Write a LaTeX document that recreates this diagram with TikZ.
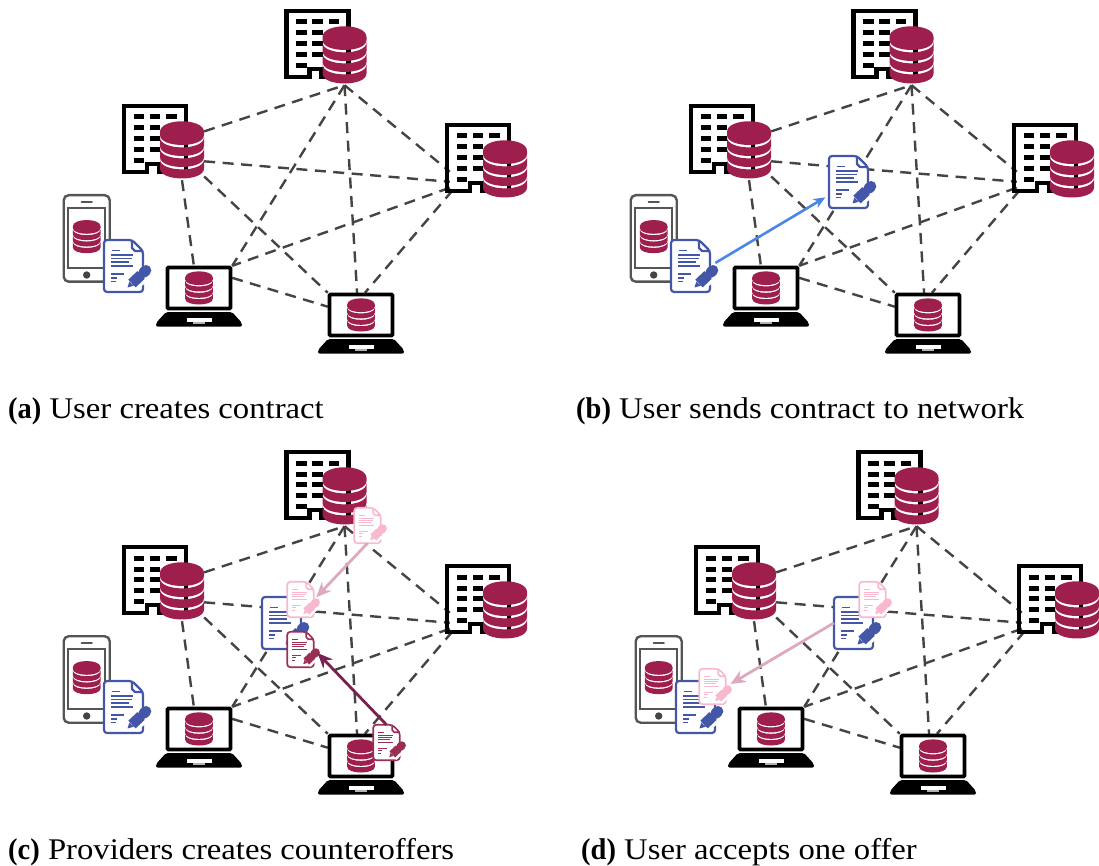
\documentclass[tikz,border=0pt]{standalone}
\usepackage{fontspec}
\setmainfont{Liberation Serif}[FakeStretch=1.09,BoldFeatures={FakeStretch=.95}]
\usetikzlibrary{arrows.meta}

\definecolor{dbred}{HTML}{9E1F4E}
\definecolor{dashgrey}{HTML}{444444}
\definecolor{phonegrey}{HTML}{555555}
\definecolor{docblue}{HTML}{4456A8}
\definecolor{docpink}{HTML}{F9B8CE}
\definecolor{docwine}{HTML}{9A2F55}
\definecolor{sendblue}{HTML}{4A86E8}
\definecolor{offerpink}{HTML}{DDA9BF}
\definecolor{offerwine}{HTML}{7A2050}

% one slice of the database stack
\newcommand{\dbslice}[2]{%
  \fill[dbred] (-22,#1) .. controls (-22,#1+13.3) and (22,#1+13.3) .. (22,#1)
    -- (22,#2) .. controls (22,#2+13.3) and (-22,#2+13.3) .. (-22,#2) -- cycle;}

\tikzset{
  dbhub/.style={inner sep=0pt,minimum width=44pt,minimum height=60pt},
  bldhub/.style={inner sep=0pt,minimum width=62pt,minimum height=67pt},
  laphub/.style={inner sep=0pt,minimum width=66pt,minimum height=44pt},
  bigdoc/.style={inner sep=0pt,minimum width=39pt,minimum height=52pt},
  smalldoc/.style={inner sep=0pt,minimum width=27pt,minimum height=35pt},
  bigpen/.style={line width=2.2pt},
  smallpen/.style={scale=.68,line width=1.7pt},
  dbsmall/.style={xscale=.63,yscale=.58},
  link/.style={draw=dashgrey,line width=2.4pt,dash pattern=on 11pt off 7.5pt},
  sendarrow/.style={draw=sendblue,line width=2.6pt,-{Stealth[length=12pt,width=10pt]}},
  pinkarrow/.style={draw=offerpink,line width=2.8pt,-{Stealth[length=15pt,width=13pt]}},
  winearrow/.style={draw=offerwine,line width=2.8pt,-{Stealth[length=15pt,width=13pt]}},
  captext/.style={anchor=base west,inner sep=0pt,font=\fontsize{30}{36}\selectfont},
  pics/dbstack/.style={code={
    \fill[dbred] (-22,-18) .. controls (-22,-32.3) and (22,-32.3) .. (22,-18)
      -- (22,-15) .. controls (22,-1.7) and (-22,-1.7) .. (-22,-15) -- cycle;
    \dbslice{-12.6}{-4}
    \dbslice{-1.6}{7}
    \dbslice{9.4}{18.5}
  }},
  pics/server/.style={code={
    \begin{scope}[shift={(-60,-46)}]
      \draw[line width=4.5pt,line join=miter] (2,2) -- (64,2) -- (64,68) -- (37,68)
        -- (37,60) -- (25,60) -- (25,68) -- (2,68) -- cycle;
      \foreach \wy in {10.5,21.5,32,43}
        \foreach \wx in {11.5,27.5,44}
          \fill (\wx,\wy) rectangle ++(10.5,5);
      \fill (11.5,54) rectangle ++(10.5,5);
    \end{scope}
    \pic {dbstack};
  }},
  pics/laptop/.style={code={
    \draw[line width=3.6pt,rounded corners=1pt] (-31.5,-20.5) rectangle (31.5,20.5);
    \fill[rounded corners=2pt] (-33,24) -- (33,24) -- (43,35) -- (43,38.7)
      -- (-43,38.7) -- (-43,35) -- cycle;
    \fill[white] (-12.3,30.3) rectangle (12.7,33.7);
    \fill[white!70!black] (-6,33.7) rectangle (6,36);
    \pic[dbsmall] {dbstack};
  }},
  pics/phone/.style={code={
    \draw[phonegrey,line width=2.4pt,rounded corners=5pt] (-23,-41.5) rectangle (23,45);
    \draw[phonegrey,line width=2.4pt] (-18.5,-28.5) rectangle (18.5,31.5);
    \draw[phonegrey,line width=2.4pt,line cap=round] (-5,-34.7) -- (5,-34.7);
    \fill[phonegrey!80!black] (0,38.3) circle (3.7);
    \pic[dbsmall] at (0,0) {dbstack};
  }},
  pics/contract/.style={code={
    \begin{scope}[shift={(-19.5,-26)}]
      \draw[#1,fill=white,rounded corners=3pt,line join=round]
        (0,0) -- (28,0) -- (39,11) -- (39,52) -- (0,52) -- cycle;
      \draw[#1,line join=round] (28,0) -- (28,8) -- (31,11) -- (39,11);
      \draw[#1,line width=.7\pgflinewidth] (7.5,10.7) -- (16,10.7);
      \foreach \ly/\lx in {15/29,18.5/28,22/25,26/29}
        \draw[#1,line width=.7\pgflinewidth] (7,\ly) -- (\lx,\ly);
      \foreach \ly/\lx in {34/20,38/13,41.7/12}
        \draw[#1,line width=.7\pgflinewidth] (7,\ly) -- (\lx,\ly);
      \draw[white,line width=2.8\pgflinewidth] (27,44.5) -- (37,35);
      \draw[#1,line width=2.2\pgflinewidth] (28,43.5) -- (37,35);
      \draw[#1,line width=2.2\pgflinewidth,line cap=round] (39.5,32.7) -- (42,30.3);
      \fill[#1] (23.5,47.5) -- (25.3,41.5) -- (29.8,45.7) -- cycle;
    \end{scope}
  }},
}

% hosts, devices and the dashed links of one panel
\newcommand{\network}{%
  \node[dbhub] (top) at (344.5,55) {};
  \node[dbhub] (left) at (182,150) {};
  \node[bldhub] (right) at (481,156.5) {};
  \node[laphub] (lapa) at (199,288) {};
  \node[laphub] (lapb) at (361,315) {};
  \node[bigdoc] (userdoc) at (123.5,266) {};
  \draw[link] (left.40) -- (top.south);
  \draw[link] (left.-27) -- (right.219.7);
  \draw[link] (left.south) -- (lapa.103);
  \draw[link] (left.-50) -- (lapb.north west);
  \draw[link] (top.south) -- (right.206);
  \draw[link] (top.south) -- (lapa.north east);
  \draw[link] (top.south) -- (lapb.100);
  \draw[link] (right.225) -- (lapa.north east);
  \draw[link] (right.230) -- (lapb.80);
  \draw[link] (lapa.17) -- (lapb.166);
  \pic at (top) {server};
  \pic at (left) {server};
  \pic at (505,169) {server};
  \pic at (lapa) {laptop};
  \pic at (lapb) {laptop};
  \pic at (86.7,236.7) {phone};
  \pic[bigpen] at (userdoc) {contract=docblue};
}

\begin{document}
\begin{tikzpicture}[x=1pt,y=-1pt]
\useasboundingbox (0,0) rectangle (1099,866);

% (a) user creates contract
\begin{scope}[name prefix=a-]
  \network
\end{scope}
\node[captext] (capa) at (8,418) {\textbf{(a)} User creates contract};

% (b) user sends contract to network
\begin{scope}[shift={(567,0)},name prefix=b-]
  \network
  \node[bigdoc] (netdoc) at (281.5,182) {};
  \pic[bigpen] at (netdoc) {contract=docblue};
  \draw[sendarrow,shorten <=6pt,shorten >=4pt] (userdoc.east) -- (netdoc.214);
\end{scope}
\node[captext] (capb) at (576,418) {\textbf{(b)} User sends contract to network};

% (c) providers creates counteroffers
\begin{scope}[shift={(0,441)},name prefix=c-]
  \network
  \node[bigdoc] (netdoc) at (281.5,182) {};
  \node[smalldoc] (pinksrc) at (367.5,84.5) {};
  \node[smalldoc] (pinkdst) at (300.5,158.5) {};
  \node[smalldoc] (winesrc) at (386.5,301.5) {};
  \node[smalldoc] (winedst) at (300.5,208.5) {};
  \pic[bigpen] at (netdoc) {contract=docblue};
  \pic[smallpen] at (pinksrc) {contract=docpink};
  \pic[smallpen] at (pinkdst) {contract=docpink};
  \pic[smallpen] at (winesrc) {contract=docwine};
  \pic[smallpen] at (winedst) {contract=docwine};
  \draw[pinkarrow,shorten >=3pt] (pinksrc.south) -- (pinkdst.east);
  \draw[winearrow,shorten >=5pt] (winesrc.north) -- (winedst.east);
\end{scope}
\node[captext] (capc) at (8,859) {\textbf{(c)} Providers creates counteroffers};

% (d) user accepts one offer
\begin{scope}[shift={(572,441)},name prefix=d-]
  \network
  \node[bigdoc] (netdoc) at (281.5,182) {};
  \node[smalldoc] (pinksrc) at (300.5,158.5) {};
  \node[smalldoc] (pinkdst) at (140.5,245.5) {};
  \pic[bigpen] at (netdoc) {contract=docblue};
  \pic[smallpen] at (pinksrc) {contract=docpink};
  \pic[smallpen] at (pinkdst) {contract=docpink};
  \draw[pinkarrow,shorten >=5pt] (netdoc.west) -- (pinkdst.east);
\end{scope}
\node[captext] (capd) at (581,859) {\textbf{(d)} User accepts one offer};
\end{tikzpicture}
\end{document}
